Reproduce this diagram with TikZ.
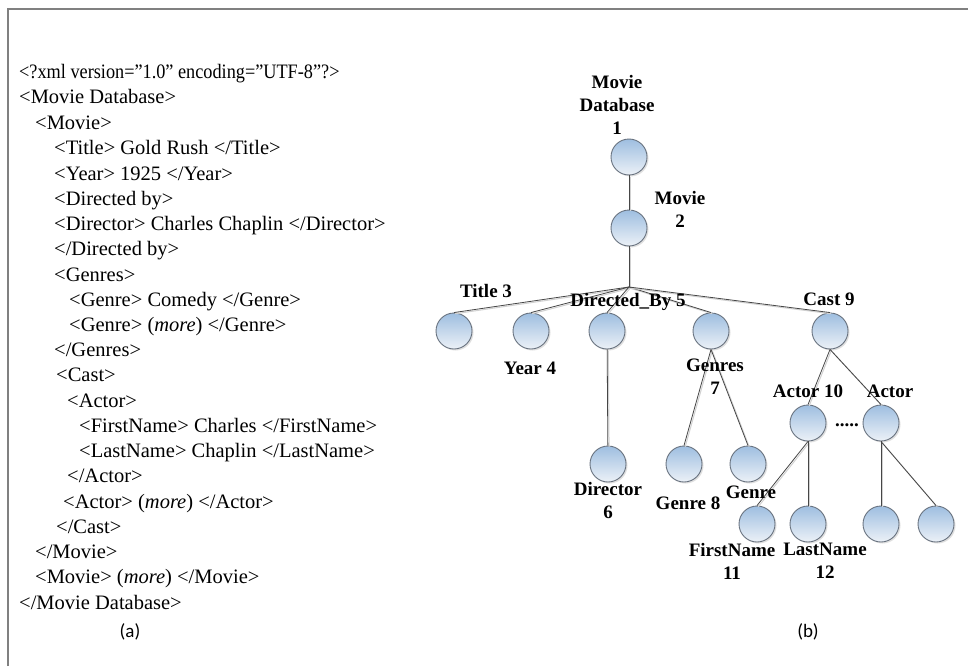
\documentclass[tikz,border=0pt]{standalone}
\usepackage{fontspec}
\setmainfont{Liberation Serif}
\newfontfamily\capfont{Carlito}
\usetikzlibrary{shadows}

\definecolor{framegray}{RGB}{128,128,128}
\definecolor{ballborder}{RGB}{105,115,128}
\definecolor{balltop}{RGB}{158,190,224}
\definecolor{ballbottom}{RGB}{236,241,247}
\definecolor{wire}{RGB}{70,70,70}

\begin{document}
\begin{tikzpicture}[x=1pt,y=-1pt,
  xmlline/.style={anchor=base west, inner sep=0pt, font=\fontsize{20.5}{24}\selectfont},
  caption/.style={anchor=base, inner sep=0pt, font=\capfont\fontsize{19}{23}\selectfont},
  ball/.style={circle, minimum size=36pt, inner sep=0pt, draw=ballborder, line width=0.9pt,
    top color=balltop, bottom color=ballbottom,
    drop shadow={opacity=0.25, shadow xshift=1.5pt, shadow yshift=-1.5pt}},
  lbl/.style={font=\fontsize{19}{23}\selectfont\bfseries, align=center, inner sep=0pt},
  wireline/.style={draw=wire, line width=0.8pt,
    preaction={draw=black!18, line width=1pt, transform canvas={xshift=1.2pt, yshift=-1.2pt}}}
]
% page area
\fill[white] (0,0) rectangle (968,666);
\useasboundingbox (0,0) rectangle (968,666);

% frame along the top and left edges
\draw[framegray, line width=1.5pt] (8,666) -- (8,9) -- (968,9);

% ---------- (a) XML listing ----------
\node[xmlline] (x0)  at (19,79)  {\scalebox{0.89}[1]{<?xml version=”1.0” encoding=”UTF-8”?>}};
\node[xmlline] (x1)  at (19,104) {<Movie Database>};
\node[xmlline] (x2)  at (35,129) {<Movie>};
\node[xmlline] (x3)  at (54,154) {<Title> Gold Rush </Title>};
\node[xmlline] (x4)  at (54,180) {<Year> 1925 </Year>};
\node[xmlline] (x5)  at (54,205) {<Directed by>};
\node[xmlline] (x6)  at (54,230) {<Director> Charles Chaplin </Director>};
\node[xmlline] (x7)  at (54,255) {</Directed by>};
\node[xmlline] (x8)  at (54,281) {<Genres>};
\node[xmlline] (x9)  at (69,306) {<Genre> Comedy </Genre>};
\node[xmlline] (x10) at (69,331) {<Genre> (\textit{more}) </Genre>};
\node[xmlline] (x11) at (54,356) {</Genres>};
\node[xmlline] (x12) at (56,381) {<Cast>};
\node[xmlline] (x13) at (67,407) {<Actor>};
\node[xmlline] (x14) at (79,432) {<FirstName> Charles </FirstName>};
\node[xmlline] (x15) at (79,457) {<LastName> Chaplin </LastName>};
\node[xmlline] (x16) at (67,482) {</Actor>};
\node[xmlline] (x17) at (63,508) {<Actor> (\textit{more}) </Actor>};
\node[xmlline] (x18) at (56,533) {</Cast>};
\node[xmlline] (x19) at (35,558) {</Movie>};
\node[xmlline] (x20) at (35,583) {<Movie> (\textit{more}) </Movie>};
\node[xmlline] (x21) at (19,609) {</Movie Database>};
\node[caption] (capa) at (130,637) {(a)};

% ---------- (b) tree ----------
\node[ball] (n1)  at (629,157) {};
\node[ball] (n2)  at (629,228) {};
\coordinate (hub) at (629,287);
\node[ball] (n3)  at (454,331) {};
\node[ball] (n4)  at (531,331) {};
\node[ball] (n5)  at (607,331) {};
\node[ball] (n7)  at (711,331) {};
\node[ball] (n9)  at (830,331) {};
\node[ball] (n6)  at (608,464) {};
\node[ball] (n8)  at (684,464) {};
\node[ball] (n8b) at (748,464) {};
\node[ball] (n10) at (808,423) {};
\node[ball] (n10b) at (881,423) {};
\node[ball] (n11) at (757,524) {};
\node[ball] (n12) at (808,524) {};
\node[ball] (n13) at (881,524) {};
\node[ball] (n14) at (936,524) {};

% connectors
\draw[wireline] (n1) -- (n2);
\draw[wireline] (n2) -- (hub);
\draw[wireline] (hub) -- (n3.north);
\draw[wireline] (hub) -- (n4.north);
\draw[wireline] (hub) -- (n5.north);
\draw[wireline] (hub) -- (n7.north);
\draw[wireline] (hub) -- (n9.north);
\draw[wireline] (n5) -- (n6);
\draw[wireline] (n7.south) -- (n8.north);
\draw[wireline] (n7.south) -- (n8b.north);
\draw[wireline] (n9.south) -- (n10.north);
\draw[wireline] (n9.south) -- (n10b.north);
\draw[wireline] (n10.south) -- (n11.north);
\draw[wireline] (n10) -- (n12);
\draw[wireline] (n10b) -- (n13);
\draw[wireline] (n10b.south) -- (n14.north);

% labels
\node[lbl] (l1)  at (617,105) {Movie\\Database\\1};
\node[lbl] (l2)  at (680,209) {Movie\\2};
\node[lbl] (l3)  at (486,291) {Title 3};
\node[lbl] (l5)  at (628,302) {Directed\_By 5};
\node[lbl] (l9)  at (829,299) {Cast 9};
\node[lbl] (l4)  at (530,368) {Year 4};
\node[lbl] (l7)  at (715,377) {Genres\\7};
\node[lbl] (l10) at (808,391) {Actor 10};
\node[lbl] (l10b) at (890,391) {Actor};
\node[lbl] (dots) at (847,425) {.....};
\node[lbl] (l6)  at (608,500) {Director\\6};
\node[lbl] (l8)  at (688,503) {Genre 8};
\node[lbl] (l8b) at (751,492) {Genre};
\node[lbl] (l11) at (732,561) {FirstName\\11};
\node[lbl] (l12) at (825,561) {LastName\\12};
\node[caption] (capb) at (808,637) {(b)};
\end{tikzpicture}
\end{document}
